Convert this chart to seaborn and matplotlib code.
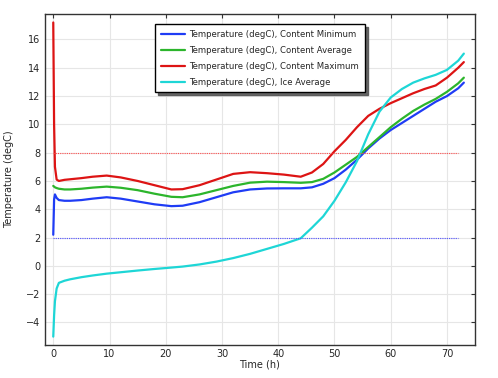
import numpy as np
import pandas as pd
import matplotlib
matplotlib.use('Agg')
import matplotlib.pyplot as plt
import seaborn as sns

# time (h) and the four temperature curves
time_h = [0, 0.15, 0.3, 0.6, 1, 2, 3, 5, 7, 9.5, 12, 15, 18, 21, 23, 26, 29, 32, 35, 38,
          41, 44, 46, 48, 50, 52, 54, 56, 58, 60, 62, 64, 66, 68, 70, 72, 73]

content_min = [2.2, 4.7, 5.05, 4.8, 4.65, 4.6, 4.6, 4.65, 4.75, 4.85, 4.75, 4.55, 4.35, 4.22,
               4.25, 4.5, 4.85, 5.2, 5.4, 5.47, 5.48, 5.48, 5.55, 5.8, 6.2, 6.8, 7.5, 8.3,
               9.0, 9.6, 10.1, 10.6, 11.1, 11.6, 12.0, 12.55, 12.95]

content_avg = [5.65, 5.6, 5.55, 5.5, 5.45, 5.4, 5.4, 5.45, 5.53, 5.6, 5.52, 5.35, 5.1, 4.88,
               4.85, 5.05, 5.35, 5.65, 5.88, 5.95, 5.92, 5.87, 5.92, 6.15, 6.6, 7.15, 7.7,
               8.4, 9.1, 9.8, 10.4, 10.95, 11.4, 11.8, 12.3, 12.9, 13.3]

content_max = [17.2, 10.0, 7.0, 6.1, 6.0, 6.08, 6.12, 6.2, 6.3, 6.38, 6.25, 6.0, 5.7, 5.4,
               5.42, 5.7, 6.1, 6.5, 6.62, 6.55, 6.45, 6.3, 6.6, 7.2, 8.1, 8.9, 9.8, 10.6,
               11.1, 11.5, 11.85, 12.2, 12.5, 12.75, 13.3, 14.0, 14.4]

ice_avg = [-5.0, -3.5, -2.5, -1.6, -1.2, -1.05, -0.95, -0.8, -0.68, -0.55, -0.45, -0.33,
           -0.22, -0.12, -0.05, 0.1, 0.3, 0.55, 0.85, 1.2, 1.55, 1.95, 2.7, 3.5, 4.6, 5.9,
           7.4, 9.3, 10.9, 11.9, 12.5, 12.95, 13.25, 13.5, 13.85, 14.5, 15.0]

labels = ['Temperature (degC), Content Minimum', 'Temperature (degC), Content Average',
          'Temperature (degC), Content Maximum', 'Temperature (degC), Ice Average']
colors = ['#1f3cf5', '#2cb52c', '#dd1414', '#1ed6d6']

# limits drawn as dotted lines
limit_t = [0, 72]
upper_limit = 8
lower_limit = 2

df = pd.DataFrame({'time': time_h * 4,
                   'temp': content_min + content_avg + content_max + ice_avg,
                   'series': np.repeat(labels, len(time_h))})

sns.set_style('whitegrid', {'grid.color': '#e6e6e6', 'axes.edgecolor': '#333333'})
plt.rcParams['font.family'] = ['DejaVu Sans']

fig, ax = plt.subplots(figsize=(4.98, 3.78), dpi=100)
fig.subplots_adjust(left=0.09, right=0.954, top=0.963, bottom=0.087)

sns.lineplot(data=df, x='time', y='temp', hue='series', palette=colors, hue_order=labels,
             linewidth=1.6, ax=ax)

ax.plot(limit_t, [upper_limit] * 2, color='#ff5050', linestyle=(0, (1, 1)), linewidth=0.8)
ax.plot(limit_t, [lower_limit] * 2, color='#5050ff', linestyle=(0, (1, 1)), linewidth=0.8)

ax.set_xlim(-1.5, 75)
ax.set_ylim(-5.6, 17.8)
ax.set_xticks(range(0, 71, 10))
ax.set_yticks(range(-4, 17, 2))
ax.tick_params(direction='in', length=3, width=0.8, top=True, right=True,
               labelsize=7, color='#333333', pad=3)
for s in ax.spines.values():
    s.set_linewidth(1.0)

ax.set_xlabel('Time (h)', fontsize=7, labelpad=0)
ax.set_ylabel('Temperature (degC)', fontsize=7, labelpad=9)

leg = ax.legend(loc='upper left', bbox_to_anchor=(0.256, 0.969), borderaxespad=0,
                fontsize=6.1, frameon=True, fancybox=False,
                shadow={'color': '#555555', 'alpha': 0.9}, framealpha=1,
                handlelength=2.8, handletextpad=0.55, borderpad=0.7, labelspacing=0.8)
leg.get_frame().set_edgecolor('black')
leg.get_frame().set_linewidth(1.0)

fig.savefig('out.png', dpi=100)
